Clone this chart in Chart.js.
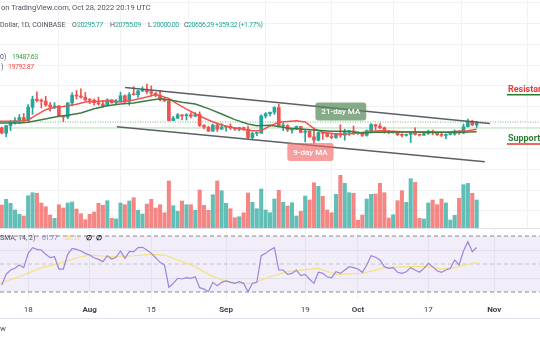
<!DOCTYPE html>
<html lang="en">
<head>
<meta charset="UTF-8">
<title>BTC/USD 1D</title>
<script src="https://cdn.jsdelivr.net/npm/chart.js"></script>
<style>
  body { margin: 0; background: #fff; font-family: Roboto, sans-serif; }
  #wrap { position: relative; width: 540px; height: 340px; overflow: hidden; background: #fff; }
  canvas { position: absolute; left: 0; }
  #mainChart { top: 0; }
  #rsiChart { top: 229px; }
  .t { position: absolute; white-space: nowrap; font-size: 7px; line-height: 10px; color: #50535e; z-index: 2; }
  .n { letter-spacing: -0.45px; }
  .sep { position: absolute; left: 0; width: 540px; height: 1px; background: #e0e3eb; }
  .teal { color: #26a69a; }
</style>
</head>
<body>
<div id="wrap">
  <canvas id="mainChart" width="540" height="228"></canvas>
  <div class="sep" style="top:228px"></div>
  <canvas id="rsiChart" width="540" height="89"></canvas>
  <div class="sep" style="top:318px"></div>

  <div class="t" style="left:1px;top:3px;font-size:7.5px">on TradingView.com, Oct 28, 2022 20:19 UTC</div>

  <div class="t" style="left:0;top:20px">Dollar, 1D, COINBASE</div>
  <div class="t" style="left:72px;top:20px">O</div><div class="t teal n" id="vO" style="left:77px;top:20px"></div>
  <div class="t" style="left:110px;top:20px">H</div><div class="t teal n" id="vH" style="left:115px;top:20px"></div>
  <div class="t" style="left:148px;top:20px">L</div><div class="t teal n" id="vL" style="left:153px;top:20px"></div>
  <div class="t" style="left:184px;top:20px">C</div><div class="t teal n" id="vC" style="left:188px;top:20px"></div>
  <div class="t teal n" style="left:215px;top:20px">+359.32 (+1.77%)</div>

  <div class="t" style="left:0;top:52px">0)</div><div class="t n" id="vMa21" style="left:12px;top:52px;color:#43a047"></div>
  <div class="t" style="left:1px;top:62px">)</div><div class="t n" id="vMa9" style="left:8px;top:62px;color:#f05350"></div>

  <div class="t" style="left:0;top:233px">SMA, 14, 2)</div>
  <div class="t n" id="vRsi" style="left:42px;top:233px;color:#8e7cd6"></div>
  <div class="t n" id="vRsiMa" style="left:65px;top:233px;color:#ecd35a"></div>
  <div class="t" style="left:86px;top:233px;color:#131722;font-weight:bold">∅</div>
  <div class="t" style="left:96px;top:233px;color:#131722;font-weight:bold">∅</div>

  <div class="t" style="left:0;top:324px;font-size:8px">w</div>
</div>

<script>
// day numbers count from Jul 1, 2022 = 0; first candle is Jul 12
const firstDay = 11;

const opens = [
  19960, 19330, 20220, 20590, 20830, 21200, 20790, 22430, 23400, 23230,
  23160, 22690, 22460, 22580, 21310, 21250, 22950, 23850, 23780, 23640,
  23300, 23270, 22980, 22820, 22620, 23310, 22960, 23180, 23810, 23160,
  23960, 23940, 24400, 24450, 24300, 24100, 23860, 23340, 23200, 20830,
  21130, 21520, 21400, 21530, 21360, 21560, 20240, 20030, 19560, 20280,
  19800, 20050, 20130, 19960, 19830, 19990, 19800, 18790, 19290, 19320,
  21370, 21650, 21830, 22400, 20170, 20230, 19700, 19800, 20120, 19420,
  19540, 18880, 18480, 19400, 19290, 18920, 18800, 19220, 19080, 19410,
  19590, 19420, 19310, 19060, 19630, 20340, 20160, 19960, 19530, 19420,
  19440, 19130, 19060, 19160, 19380, 19180, 19070, 19270, 19550, 19330,
  19130, 19050, 19170, 19210, 19570, 19330, 20090, 20770, 20295.77
];
const highs = [
  20060, 20250, 20880, 21200, 21560, 21680, 22750, 23760, 24280, 23440,
  23750, 22980, 22990, 22660, 21340, 22980, 24170, 24440, 24650, 24200,
  23470, 23450, 23650, 23220, 23450, 23350, 23370, 24240, 23930, 24200,
  24900, 24460, 24890, 25210, 25000, 24230, 24450, 23600, 23200, 21340,
  21690, 21520, 21660, 21800, 21800, 21880, 20340, 20160, 20420, 20560,
  20480, 20200, 20440, 19970, 20020, 20050, 20170, 19460, 19450, 21530,
  21790, 21840, 22490, 22790, 20540, 20340, 19890, 20180, 20120, 19680,
  19620, 19950, 19490, 19490, 19300, 19180, 19310, 20340, 19790, 19640,
  20180, 19480, 19390, 19710, 20480, 20370, 20460, 20060, 19620, 19560,
  19530, 19260, 19220, 19520, 19950, 19220, 19430, 19680, 19700, 19350,
  19350, 19250, 19260, 19700, 19600, 20420, 21020, 20870, 20755.09
];
const lows = [
  19240, 18900, 19630, 20390, 20480, 20760, 20760, 21580, 23060, 22340,
  22550, 21960, 22260, 21260, 20710, 21050, 22600, 23420, 23510, 23230,
  22860, 22670, 22690, 22440, 22590, 22930, 22860, 23160, 22890, 22680,
  23880, 23600, 24300, 24030, 23750, 23700, 23200, 23110, 20800, 20800,
  21060, 20900, 20890, 21150, 21310, 20110, 19820, 19550, 19550, 19530,
  19800, 19570, 19760, 19650, 19600, 19640, 18690, 18540, 19020, 19300,
  21140, 21380, 21560, 20080, 19620, 19520, 19330, 19750, 19370, 18270,
  18800, 18150, 18370, 18560, 18880, 18640, 18680, 18810, 18470, 19050,
  19160, 19160, 18920, 18960, 19500, 19740, 19860, 19330, 19250, 19320,
  19030, 18860, 18970, 18190, 19080, 18970, 19070, 19160, 19110, 19060,
  18910, 18660, 19110, 19070, 19160, 19250, 20060, 20200, 20000.00
];
const closes = [
  19330, 20220, 20590, 20830, 21200, 20790, 22430, 23400, 23230, 23160,
  22690, 22460, 22580, 21310, 21250, 22950, 23850, 23780, 23640, 23300,
  23270, 22980, 22820, 22620, 23310, 22960, 23180, 23810, 23160, 23960,
  23940, 24400, 24450, 24300, 24100, 23860, 23340, 23200, 20830, 21130,
  21520, 21400, 21530, 21360, 21560, 20240, 20030, 19560, 20280, 19800,
  20050, 20130, 19960, 19830, 19990, 19800, 18790, 19290, 19320, 21370,
  21650, 21830, 22400, 20170, 20230, 19700, 19800, 20120, 19420, 19540,
  18880, 18480, 19400, 19290, 18920, 18800, 19220, 19080, 19410, 19590,
  19420, 19310, 19060, 19630, 20340, 20160, 19960, 19530, 19420, 19440,
  19130, 19060, 19160, 19380, 19180, 19070, 19270, 19550, 19330, 19130,
  19050, 19170, 19210, 19570, 19330, 20090, 20770, 20300, 20656.29
];
// volume, thousand BTC
const volumes = [
  23.0, 28.7, 24.7, 18.0, 13.7, 12.0, 32.3, 35.3, 34.7, 25.0,
  21.3, 13.0, 9.7, 23.3, 20.0, 25.0, 26.0, 19.0, 14.3, 8.3,
  13.7, 16.0, 24.7, 22.7, 27.3, 9.7, 9.0, 25.0, 23.3, 27.0,
  30.3, 17.7, 14.0, 24.0, 28.7, 20.0, 23.3, 15.3, 47.0, 22.3,
  16.7, 27.0, 23.3, 23.3, 17.7, 38.0, 22.7, 17.7, 33.3, 47.0,
  37.3, 24.7, 19.3, 10.3, 11.3, 15.3, 35.0, 25.7, 19.3, 39.0,
  18.0, 15.3, 29.0, 37.7, 25.7, 22.0, 25.3, 12.0, 16.7, 32.0,
  28.0, 45.3, 41.7, 31.7, 18.0, 15.3, 33.7, 52.7, 44.7, 35.3,
  34.7, 7.7, 13.0, 29.0, 33.7, 34.0, 44.7, 35.3, 10.0, 13.3,
  27.3, 37.3, 25.7, 49.3, 45.7, 9.7, 9.0, 25.0, 28.0, 23.3,
  29.0, 25.0, 8.0, 12.7, 29.7, 43.3, 44.7, 34.7, 28.0
];
const rsiValues = [
  35.0, 42.6, 45.7, 46.9, 49.3, 47.4, 57.6, 61.7, 60.5, 60.0,
  56.9, 54.5, 55.2, 46.4, 46.4, 56.9, 61.2, 60.5, 59.3, 57.6,
  56.4, 54.5, 53.3, 51.7, 55.9, 53.6, 54.8, 59.3, 54.1, 58.8,
  58.8, 61.7, 61.9, 60.0, 57.6, 54.5, 51.2, 49.3, 33.4, 36.2,
  39.8, 39.3, 40.2, 39.8, 40.9, 33.1, 32.1, 30.2, 36.9, 34.5,
  36.9, 37.9, 36.9, 36.2, 37.4, 36.2, 30.2, 36.2, 36.9, 55.9,
  57.6, 60.0, 61.7, 45.7, 45.7, 42.6, 43.3, 45.7, 41.7, 42.6,
  39.1, 36.2, 44.1, 43.3, 40.9, 40.2, 44.5, 43.3, 45.7, 48.1,
  47.4, 46.4, 44.1, 49.3, 55.9, 54.8, 52.9, 48.1, 46.9, 47.4,
  44.1, 43.3, 44.5, 47.4, 45.7, 44.1, 46.9, 50.5, 48.1, 45.2,
  44.1, 45.7, 46.9, 52.9, 49.3, 59.3, 65.9, 58.8, 61.77
];

// moving averages (day, value)
const ma9Days = [10, 15, 17, 19, 21, 23, 25, 28, 30, 33, 36, 38, 41, 44, 46, 49, 51, 53, 56, 58, 60, 62, 65, 68, 70, 72, 74, 78, 80, 82, 84, 87, 90, 92, 95, 97, 100, 103, 107, 112, 115, 117, 119];
const ma9Values = [20750, 20740, 20900, 21540, 22140, 22420, 22520, 22780, 23060, 23140, 23220, 23060, 23300, 23650, 23950, 23500, 22800, 22200, 21380, 20900, 20480, 20140, 19860, 19620, 19620, 20200, 20620, 20820, 20660, 19860, 19420, 19220, 19220, 19340, 19540, 19620, 19540, 19460, 19460, 19420, 19540, 19620, 19792.87];
const ma21Days = [10, 15, 17, 20, 24, 26, 29, 32, 35, 38, 41, 44, 47, 49, 52, 55, 58, 61, 64, 67, 69, 72, 76, 81, 86, 90, 93, 96, 103, 110, 115, 119];
const ma21Values = [20540, 20540, 20620, 20940, 21340, 21460, 21740, 22260, 22620, 22820, 22940, 23220, 23460, 23340, 23020, 22820, 22260, 21620, 20940, 20420, 20220, 20260, 19940, 19740, 19540, 19540, 19340, 19420, 19460, 19420, 19420, 19487.63];
const rsiMaDays = [10, 15, 20, 24, 29, 31, 36, 41, 45, 48, 51, 55, 58, 61, 65, 68, 72, 76, 83, 87, 93, 98, 104, 108, 111, 114, 117, 119];
const rsiMaValues = [35.8, 40.9, 47.4, 50.5, 55.2, 56.4, 55.2, 55.9, 56.9, 56.4, 52.9, 48.1, 42.6, 38.6, 36.2, 36.2, 40.9, 44.5, 46.9, 42.6, 43.3, 47.4, 48.1, 48.1, 46.4, 47.4, 49.8, 51.17];

// trend channel drawn on the chart
const upperChannelDays = [39.05, 122.0];
const upperChannelPrices = [24800, 20480];
const lowerChannelDays = [37.16, 120.86];
const lowerChannelPrices = [20100, 15900];

const lastPrice = 20656.29;
const supportLevel = 19950;
const rsiLevels = [70, 50, 30];

const tickDays = [17, 31, 45, 62, 80, 92, 108, 123];
const tickLabels = ['18', 'Aug', '15', 'Sep', '19', 'Oct', '17', 'Nov'];
const monthLabels = ['Aug', 'Sep', 'Oct', 'Nov'];

const priceGrid = [10000, 12500, 15000, 17500, 20000, 22500, 25000, 27500, 30000, 32500, 35000];

// callouts and zone labels, placed in chart coordinates
const calloutTexts = ['21-day MA', '9-day MA'];
const calloutDays = [88.1, 81.2];
const calloutPrices = [21920, 17050];
const zoneTexts = ['Resistance', 'Support'];
const zoneDays = [126.1, 126.1];
const zonePrices = [24540, 18620];

const X_MIN = 10.6, X_MAX = 133.4;
const UP = '#26a69a', DOWN = '#ef5350';

const days = opens.map((_, i) => firstDay + i);
const isUp = opens.map((o, i) => closes[i] >= o);
const last = opens.length - 1;

document.getElementById('vO').textContent = opens[last].toFixed(2);
document.getElementById('vH').textContent = highs[last].toFixed(2);
document.getElementById('vL').textContent = lows[last].toFixed(2);
document.getElementById('vC').textContent = closes[last].toFixed(2);
document.getElementById('vMa21').textContent = ma21Values[ma21Values.length - 1].toFixed(2);
document.getElementById('vMa9').textContent = ma9Values[ma9Values.length - 1].toFixed(2);
document.getElementById('vRsi').textContent = rsiValues[last].toFixed(2);
document.getElementById('vRsiMa').textContent = rsiMaValues[rsiMaValues.length - 1].toFixed(2);

const pts = (xs, ys) => xs.map((x, i) => ({ x: x, y: ys[i] }));
const hline = (v) => [{ x: X_MIN, y: v }, { x: X_MAX, y: v }];

function roundRect(ctx, x, y, w, h, r) {
  ctx.beginPath();
  ctx.moveTo(x + r, y);
  ctx.lineTo(x + w - r, y);
  ctx.quadraticCurveTo(x + w, y, x + w, y + r);
  ctx.lineTo(x + w, y + h - r);
  ctx.quadraticCurveTo(x + w, y + h, x + w - r, y + h);
  ctx.lineTo(x + r, y + h);
  ctx.quadraticCurveTo(x, y + h, x, y + h - r);
  ctx.lineTo(x, y + r);
  ctx.quadraticCurveTo(x, y, x + r, y);
  ctx.closePath();
}

const drawingsPlugin = {
  id: 'drawings',
  afterDatasetsDraw(chart) {
    const { ctx } = chart;
    const x = chart.scales.x, y = chart.scales.y;
    ctx.save();
    // MA callouts
    const boxColors = ['rgba(88,138,92,0.72)', 'rgba(242,98,98,0.62)'];
    ctx.font = '500 8px Roboto';
    ctx.textAlign = 'center';
    ctx.textBaseline = 'middle';
    calloutTexts.forEach((txt, i) => {
      const cx = x.getPixelForValue(calloutDays[i]);
      const cy = y.getPixelForValue(calloutPrices[i]);
      const w = ctx.measureText(txt).width + 12;
      const h = 18;
      roundRect(ctx, cx - w / 2, cy - h / 2, w, h, 3);
      ctx.fillStyle = boxColors[i];
      ctx.fill();
      ctx.fillStyle = '#ffffff';
      ctx.fillText(txt, cx, cy + 0.5);
    });
    // Resistance / Support
    const textColors = ['#e53935', '#2e7d32'];
    const lineColors = ['#2e7d32', '#e53935'];
    ctx.font = 'bold 9px Roboto';
    ctx.textAlign = 'left';
    zoneTexts.forEach((txt, i) => {
      const tx = x.getPixelForValue(zoneDays[i]);
      const ty = y.getPixelForValue(zonePrices[i]);
      ctx.fillStyle = textColors[i];
      ctx.fillText(txt, tx, ty);
      ctx.strokeStyle = lineColors[i];
      ctx.lineWidth = 1.5;
      ctx.beginPath();
      ctx.moveTo(tx - 1, ty + 5);
      ctx.lineTo(chart.width, ty + 5);
      ctx.stroke();
    });
    ctx.restore();
  }
};

new Chart(document.getElementById('mainChart'), {
  type: 'bar',
  data: {
    datasets: [
      {
        label: 'Volume', yAxisID: 'yVol', order: 10, grouped: false, barThickness: 3.4,
        data: pts(days, volumes),
        backgroundColor: isUp.map(u => u ? 'rgba(38,166,154,0.72)' : 'rgba(239,83,80,0.7)')
      },
      {
        type: 'line', label: 'Last price', order: 8, borderColor: '#9fd3a2', borderWidth: 1.5,
        borderDash: [1, 1.5], pointRadius: 0, data: hline(lastPrice)
      },
      {
        type: 'line', label: 'Level', order: 8, borderColor: '#cfe8d0', borderWidth: 1.5,
        pointRadius: 0, data: hline(supportLevel)
      },
      {
        label: 'Wicks', order: 5, grouped: false, barThickness: 1,
        data: days.map((d, i) => ({ x: d, y: [lows[i], highs[i]] })),
        backgroundColor: isUp.map(u => u ? UP : DOWN)
      },
      {
        label: 'Bodies', order: 4, grouped: false, barThickness: 3, minBarLength: 1,
        data: days.map((d, i) => ({ x: d, y: [opens[i], closes[i]] })),
        backgroundColor: isUp.map(u => u ? UP : DOWN)
      },
      {
        type: 'line', label: 'MA 21', order: 2, borderColor: '#3b7d3f', borderWidth: 1.5,
        pointRadius: 0, data: pts(ma21Days, ma21Values)
      },
      {
        type: 'line', label: 'MA 9', order: 2, borderColor: '#f0534f', borderWidth: 1.5,
        pointRadius: 0, data: pts(ma9Days, ma9Values)
      },
      {
        type: 'line', label: 'Upper channel', order: 1, borderColor: '#5d5f66', borderWidth: 1.5,
        pointRadius: 0, data: pts(upperChannelDays, upperChannelPrices)
      },
      {
        type: 'line', label: 'Lower channel', order: 1, borderColor: '#5d5f66', borderWidth: 1.5,
        pointRadius: 0, data: pts(lowerChannelDays, lowerChannelPrices)
      }
    ]
  },
  options: {
    responsive: false,
    animation: false,
    layout: { padding: 0 },
    plugins: { legend: { display: false }, tooltip: { enabled: false } },
    scales: {
      x: {
        type: 'linear', min: X_MIN, max: X_MAX, offset: false,
        afterBuildTicks: s => { s.ticks = tickDays.map(v => ({ value: v })); },
        afterFit: s => { s.height = 0; },
        ticks: { display: false },
        grid: { color: '#f0f2f6', drawTicks: false },
        border: { display: false }
      },
      y: {
        position: 'right', min: 7940, max: 35300,
        afterBuildTicks: s => { s.ticks = priceGrid.map(v => ({ value: v })); },
        afterFit: s => { s.width = 0; },
        ticks: { display: false },
        grid: { color: '#f0f2f6', drawTicks: false },
        border: { display: false }
      },
      yVol: { display: false, min: 0, max: 228 }
    }
  },
  plugins: [drawingsPlugin]
});

const bandPlugin = {
  id: 'rsiBand',
  beforeDatasetsDraw(chart) {
    const { ctx, chartArea } = chart;
    const y = chart.scales.y;
    const top = y.getPixelForValue(rsiLevels[0]);
    const bottom = y.getPixelForValue(rsiLevels[2]);
    ctx.save();
    ctx.fillStyle = 'rgba(126,87,194,0.1)';
    ctx.fillRect(chartArea.left, top, chartArea.right - chartArea.left, bottom - top);
    ctx.restore();
  }
};

new Chart(document.getElementById('rsiChart'), {
  type: 'line',
  data: {
    datasets: [
      {
        label: 'RSI MA', order: 2, borderColor: '#f5e27e', borderWidth: 1.2,
        pointRadius: 0, data: pts(rsiMaDays, rsiMaValues)
      },
      {
        label: 'RSI', order: 1, borderColor: '#9a86dc', borderWidth: 1.2,
        pointRadius: 0, data: pts(days, rsiValues)
      },
      ...rsiLevels.map((lv, i) => ({
        label: 'Level ' + lv, order: 3,
        borderColor: i === 1 ? '#c4c6cd' : '#888b94', borderWidth: 1, borderDash: [4, 3],
        pointRadius: 0, data: hline(lv)
      }))
    ]
  },
  options: {
    responsive: false,
    animation: false,
    layout: { padding: 0 },
    plugins: { legend: { display: false }, tooltip: { enabled: false } },
    scales: {
      x: {
        type: 'linear', min: X_MIN, max: X_MAX, offset: false,
        afterBuildTicks: s => { s.ticks = tickDays.map(v => ({ value: v })); },
        afterFit: s => { s.height = 19; },
        ticks: {
          autoSkip: false, maxRotation: 0, padding: 6, color: '#3c3f47',
          callback: v => { const i = tickDays.indexOf(v); return i >= 0 ? tickLabels[i] : ''; },
          font: c => ({
            family: 'Roboto', size: 8,
            weight: c.tick && monthLabels.includes(c.tick.label) ? 'bold' : 'normal'
          })
        },
        grid: { color: '#f0f2f6', drawTicks: false },
        border: { display: false }
      },
      y: {
        position: 'right', min: 25, max: 75,
        afterBuildTicks: s => { s.ticks = [40, 60].map(v => ({ value: v })); },
        afterFit: s => { s.width = 0; },
        ticks: { display: false },
        grid: { color: '#eceef3', drawTicks: false },
        border: { display: false }
      }
    }
  },
  plugins: [bandPlugin]
});
</script>
</body>
</html>
